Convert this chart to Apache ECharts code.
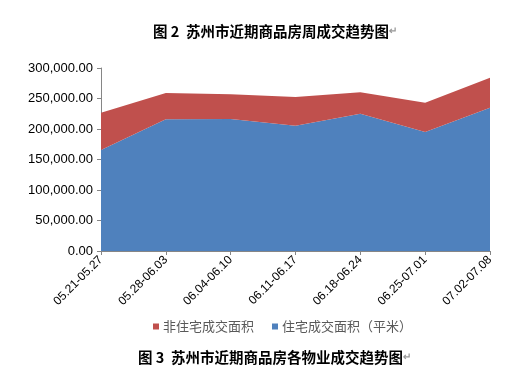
<!DOCTYPE html>
<html><head><meta charset="utf-8">
<script src="https://cdn.jsdelivr.net/npm/echarts@6/dist/echarts.min.js"></script>
<style>html,body{margin:0;padding:0;background:#fff;}#c{width:521px;height:374px;}</style>
</head><body><div id="c"></div>
<script>
const categories = ['05.21-05.27','05.28-06.03','06.04-06.10','06.11-06.17','06.18-06.24','06.25-07.01','07.02-07.08'];
const residential = [165600, 215900, 216500, 205400, 225100, 195100, 235000];
const nonResidential = [61100, 43100, 40300, 47100, 35000, 48100, 49100];
const yTicks = [0, 50000, 100000, 150000, 200000, 250000, 300000];
const title1 = '图 2  苏州市近期商品房周成交趋势图';
const title2 = '图 3  苏州市近期商品房各物业成交趋势图';
const nameRes = '住宅成交面积（平米）';
const nameNon = '非住宅成交面积';

const chart = echarts.init(document.getElementById('c'));
const numFont = '"Liberation Sans", Arial, sans-serif';
const cjk = '"Noto Sans CJK SC", sans-serif';
const titleRich = {a: {fontFamily: cjk, fontWeight: 'bold', fontSize: 14.5, color: '#000'}, b: {fontSize: 10, color: '#999'}};
chart.setOption({
  animation: false,
  title: [
    {text: '{a|' + title1 + '}{b|↵}', left: 148, top: 19, textStyle: {rich: titleRich}},
    {text: '{a|' + title2 + '}{b|↵}', left: 133, top: 345, textStyle: {rich: titleRich}}
  ],
  legend: {
    data: [nameNon, nameRes], left: 148, top: 315, icon: 'rect', itemWidth: 6, itemHeight: 6,
    itemGap: 18,
    textStyle: {fontFamily: cjk, fontSize: 13, color: '#595959', padding: [0,0,0,-1]}
  },
  grid: {left: 101, right: 31, top: 68, bottom: 123, containLabel: false},
  xAxis: {
    type: 'category', data: categories, boundaryGap: false,
    axisLine: {lineStyle: {color: '#868686'}},
    axisTick: {show: true, length: 4, lineStyle: {color: '#868686'}},
    axisLabel: {rotate: 45, interval: 0, margin: 7, fontFamily: numFont, fontSize: 12, color: '#000'}
  },
  yAxis: {
    type: 'value', min: yTicks[0], max: yTicks[yTicks.length-1], interval: yTicks[1]-yTicks[0],
    axisLine: {show: true, lineStyle: {color: '#868686'}},
    axisTick: {show: true, length: 4, lineStyle: {color: '#868686'}},
    splitLine: {show: false},
    axisLabel: {margin: 8, fontFamily: numFont, fontSize: 13, color: '#000',
      formatter: v => v.toLocaleString('en-US', {minimumFractionDigits: 2, maximumFractionDigits: 2})}
  },
  series: [
    {name: nameRes, type: 'line', stack: 's', data: residential, symbol: 'none',
     lineStyle: {width: 0}, areaStyle: {color: '#4F81BD', opacity: 1}, itemStyle: {color: '#4F81BD'}},
    {name: nameNon, type: 'line', stack: 's', data: nonResidential, symbol: 'none',
     lineStyle: {width: 0}, areaStyle: {color: '#C0504D', opacity: 1}, itemStyle: {color: '#C0504D'}}
  ]
});
</script></body></html>
